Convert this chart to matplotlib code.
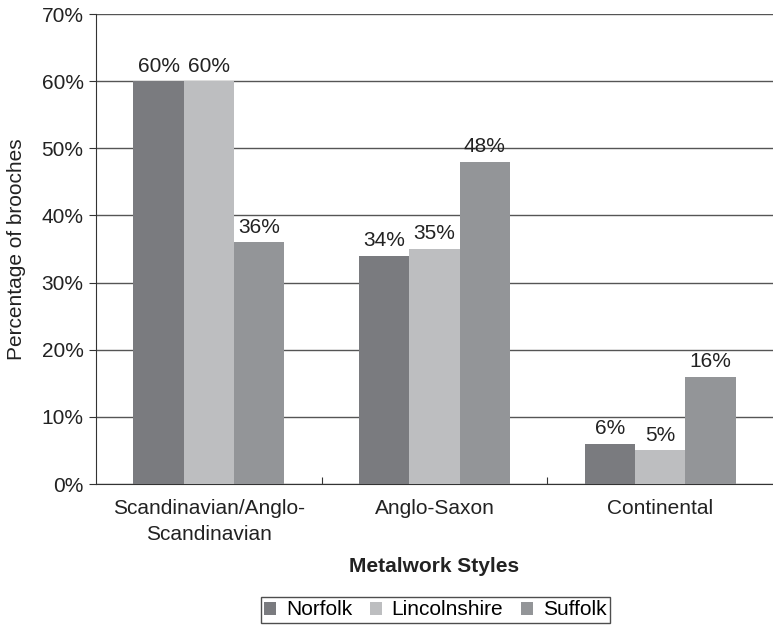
import matplotlib
matplotlib.use("Agg")
import matplotlib.pyplot as plt
import numpy as np

plt.rcParams['font.family'] = ['Liberation Sans', 'DejaVu Sans']

categories = ["Scandinavian/Anglo-\nScandinavian", "Anglo-Saxon", "Continental"]
series_names = ["Norfolk", "Lincolnshire", "Suffolk"]
norfolk = [60, 34, 6]
lincolnshire = [60, 35, 5]
suffolk = [36, 48, 16]
yticks = [0, 10, 20, 30, 40, 50, 60, 70]

colors = ["#7a7b7f", "#bdbec0", "#939598"]
series = [norfolk, lincolnshire, suffolk]
FS = 15

fig = plt.figure(figsize=(7.73, 6.26), dpi=100)
ax = fig.add_axes([0.1242, 0.2268, 0.8758, 0.7508])

x = np.arange(len(categories))
w = 0.223
for i, (vals, name, c) in enumerate(zip(series, series_names, colors)):
    pos = x + (i - 1) * w
    bars = ax.bar(pos, vals, width=w, color=c, label=name, zorder=3)
    for b, v in zip(bars, vals):
        ax.annotate(f"{v}%", (b.get_x() + b.get_width() / 2, v),
                    xytext=(0, 4), textcoords="offset points",
                    ha="center", va="bottom", fontsize=FS, color="#222222")

ax.set_xlim(-0.5, 2.5)
ax.set_ylim(0, 70)
ax.set_yticks(yticks)
ax.set_yticklabels([f"{t}%" for t in yticks], fontsize=FS, color="#222222")
ax.yaxis.grid(True, color="#555555", linewidth=1.0, zorder=0)
ax.set_axisbelow(True)

ax.set_xticks([0.5, 1.5])
ax.set_xticklabels([])
ax.set_xticks(x, minor=True)
ax.set_xticklabels(categories, minor=True, fontsize=FS, color="#222222", linespacing=1.45)
ax.tick_params(axis="x", which="minor", length=0, pad=11)
ax.tick_params(axis="x", which="major", length=5, direction="in", color="#333333")
ax.tick_params(axis="y", length=5, direction="out", color="#333333", pad=4)

for s in ["top", "right"]:
    ax.spines[s].set_visible(False)
ax.spines["left"].set_color("#333333")
ax.spines["bottom"].set_color("#333333")

ax.set_ylabel("Percentage of brooches", fontsize=FS, color="#222222", va="center")
ax.yaxis.set_label_coords(-0.118, 0.5)
ax.set_xlabel("Metalwork Styles", fontsize=FS, fontweight="bold", color="#222222", va="center")
ax.xaxis.set_label_coords(0.5, -0.1745)

leg = fig.legend(loc="center", bbox_to_anchor=(0.563, 0.0256), ncol=3, fontsize=FS,
                 frameon=True, fancybox=False, edgecolor="#222222",
                 handlelength=0.6, handleheight=0.6, handletextpad=0.45,
                 columnspacing=0.85, borderpad=0.15, borderaxespad=0)
leg.get_frame().set_linewidth(1.0)

fig.savefig("out.png", dpi=100)
